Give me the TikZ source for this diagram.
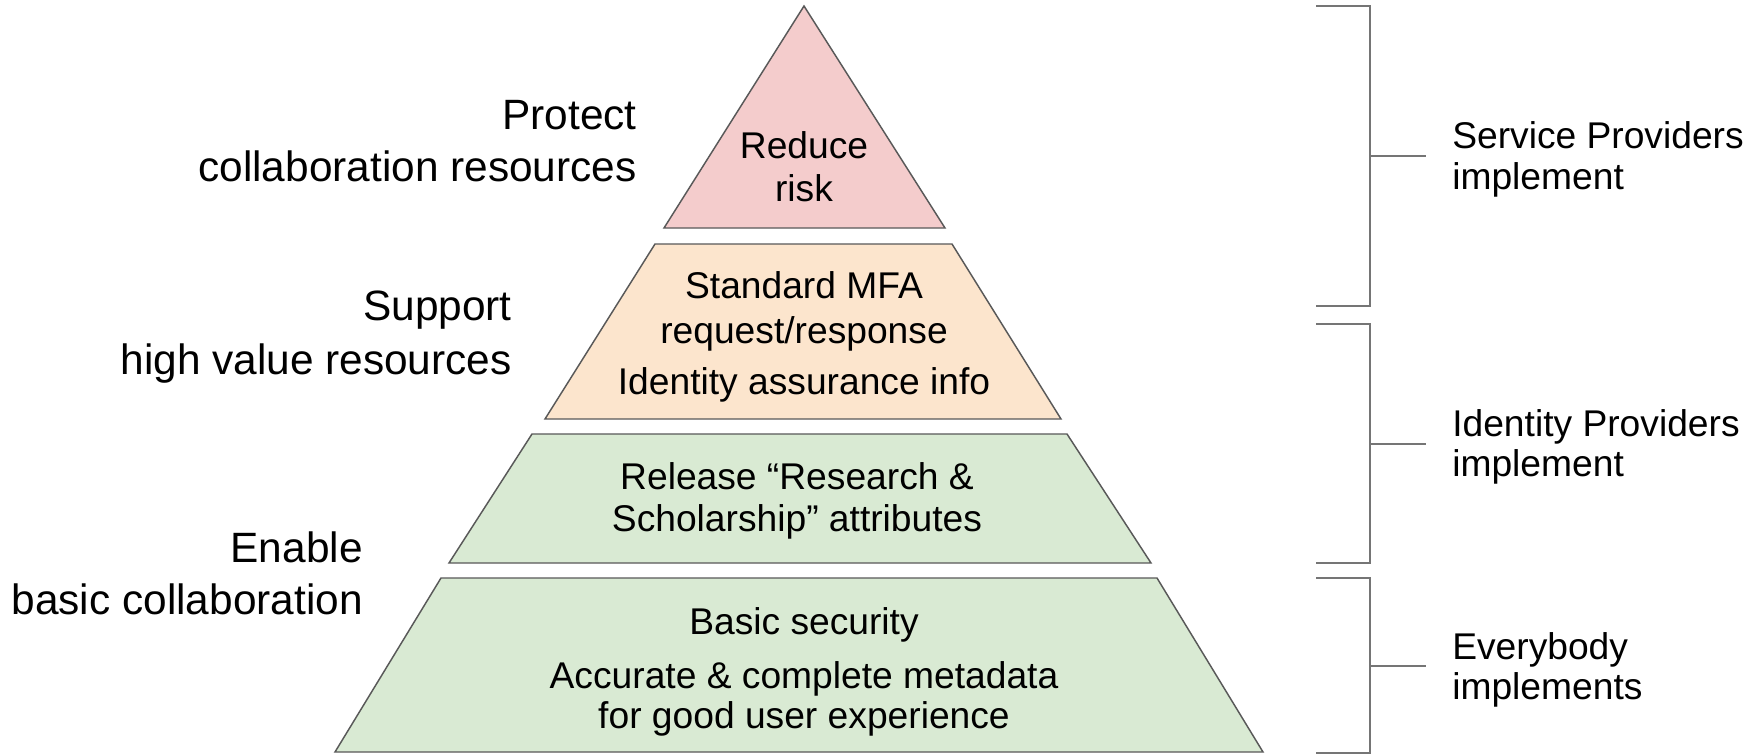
\documentclass[tikz,border=0pt]{standalone}
\usepackage{fontspec}
\setmainfont{Liberation Sans}
\definecolor{riskfill}{HTML}{F4CCCC}
\definecolor{mfafill}{HTML}{FCE5CD}
\definecolor{basefill}{HTML}{D9EAD3}
\definecolor{tieredge}{HTML}{595959}
\definecolor{bracecol}{HTML}{757575}
\begin{document}
\begin{tikzpicture}[x=0.75pt,y=-0.75pt,
  tier/.style={draw=tieredge,line width=1.1pt,line join=miter},
  tiertext/.style={align=center,font=\fontsize{27.9}{30.3}\selectfont,inner sep=0pt},
  goal/.style={align=right,anchor=east,font=\fontsize{31.8}{38.8}\selectfont,inner sep=0pt},
  who/.style={align=left,anchor=west,font=\fontsize{27.9}{30.3}\selectfont,inner sep=0pt},
  brace/.style={draw=bracecol,line width=1.5pt}]
\useasboundingbox (0,0) rectangle (1761,754);
\fill[white] (0,0) rectangle (1761,754);

% pyramid tiers, top to bottom
\path[tier,fill=riskfill] (804,6) -- (945,228) -- (664,228) -- cycle;
\path[tier,fill=mfafill] (655,244) -- (952,244) -- (1061,419) -- (545,419) -- cycle;
\path[tier,fill=basefill] (532,434) -- (1067,434) -- (1151,563) -- (449,563) -- cycle;
\path[tier,fill=basefill] (441,578) -- (1157,578) -- (1263,752) -- (335,752) -- cycle;

% tier contents
\node[tiertext] (risk) at (804,167) {Reduce\\[1.7pt]risk};
\node[tiertext] (mfa) at (804,337) {Standard MFA\\[3.5pt]request/response\\[7.6pt]Identity assurance info};
\node[tiertext] (rs) at (797,501) {Release “Research \&\\[1.5pt]Scholarship” attributes};
\node[tiertext] (basic) at (804,672) {Basic security\\[10pt]Accurate \& complete metadata\\for good user experience};

% goals on the left
\node[goal] (protect) at (637,141) {Protect\\collaboration resources};
\node[goal] (support) at (512,337) {Support\\[1.5pt]high value resources};
\node[goal] (enable) at (363,573) {Enable\\basic collaboration};

% who implements, on the right
\node[who] (sp) at (1452,159.5) {Service Providers\\implement};
\node[who] (idp) at (1452,447) {Identity Providers\\implement};
\node[who] (all) at (1452,670) {Everybody\\implements};

% brackets grouping the tiers
\coordinate (spTick) at (1426,156);
\coordinate (idpTick) at (1426,443.5);
\coordinate (allTick) at (1426,666);
\draw[brace] (1316,6) -- (1370,6) -- (1370,306) -- (1316,306);
\draw[brace] (1316,324) -- (1370,324) -- (1370,563) -- (1316,563);
\draw[brace] (1316,578) -- (1370,578) -- (1370,753) -- (1316,753);
\draw[brace] (spTick -| 1370,0) -- (spTick);
\draw[brace] (idpTick -| 1370,0) -- (idpTick);
\draw[brace] (allTick -| 1370,0) -- (allTick);
\end{tikzpicture}
\end{document}
